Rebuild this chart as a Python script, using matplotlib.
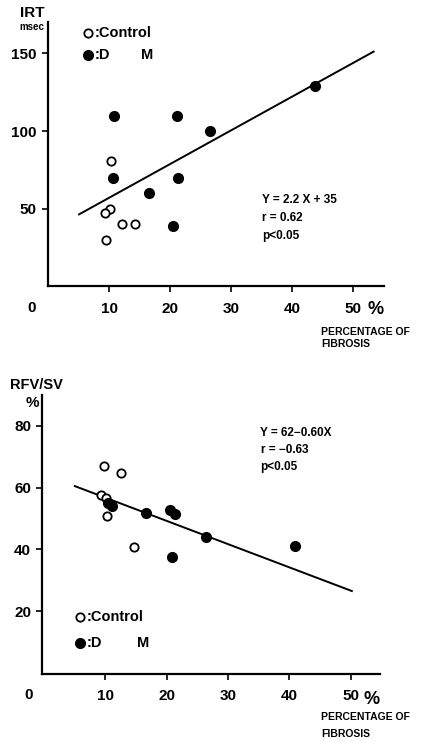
"""
Two scatter plots: IRT and RFV/SV against percentage of fibrosis
"""
import matplotlib
matplotlib.use('Agg')
import matplotlib.pyplot as plt

plt.rcParams['font.family'] = ['Liberation Sans Narrow', 'Liberation Sans', 'DejaVu Sans']
plt.rcParams['font.weight'] = 'bold'

# --- IRT panel ---
irt_ctrl_x = [10.3, 10.2, 9.4, 9.5, 12.2, 14.3]
irt_ctrl_y = [81, 50, 47, 30, 40, 40]
irt_dm_x = [10.8, 10.7, 16.5, 21.2, 21.3, 20.4, 26.5, 43.7]
irt_dm_y = [110, 70, 60, 110, 70, 39, 100, 129]
irt_fit_x = [5.1, 53.3]
irt_fit_y = [46.4, 151.2]
irt_yticks = [50, 100, 150]

# --- RFV/SV panel ---
rfv_ctrl_x = [9.7, 12.6, 9.35, 10.06, 10.3, 14.6]
rfv_ctrl_y = [67.0, 64.6, 57.5, 56.5, 50.9, 40.7]
rfv_dm_x = [10.4, 11.0, 16.6, 20.6, 21.3, 20.9, 26.4, 41.0]
rfv_dm_y = [55.0, 54.1, 51.7, 52.7, 51.3, 37.5, 43.9, 41.2]
rfv_fit_x = [5.0, 50.2]
rfv_fit_y = [60.5, 26.5]
rfv_yticks = [20, 40, 60, 80]

xticks = [10, 20, 30, 40, 50]

fig = plt.figure(figsize=(4.29, 7.42), dpi=100)
ax1 = fig.add_axes([0.1117, 0.614, 0.7834, 0.3558])
ax2 = fig.add_axes([0.0986, 0.0916, 0.7872, 0.376])


def style_axes(ax, yticks):
    for s in ['top', 'right']:
        ax.spines[s].set_visible(False)
    for s in ['left', 'bottom']:
        ax.spines[s].set_linewidth(1.6)
    ax.set_xticks(xticks)
    ax.set_yticks(yticks)
    ax.tick_params(axis='both', length=4, width=1.2, labelsize=11)
    ax.tick_params(axis='x', pad=7)
    ax.tick_params(axis='y', pad=4)


def draw_points(ax, cx, cy, dx, dy, fx, fy):
    ax.plot(fx, fy, color='black', lw=1.4, zorder=2)
    ax.plot(cx, cy, 'o', ms=6, mfc='white', mec='black', mew=1.3,
            ls='none', zorder=3, clip_on=False)
    ax.plot(dx, dy, 'o', ms=7, mfc='black', mec='black',
            ls='none', zorder=4, clip_on=False)


# 上のパネル
style_axes(ax1, irt_yticks)
ax1.set_xlim(0, 55)
ax1.set_ylim(0, 170)
draw_points(ax1, irt_ctrl_x, irt_ctrl_y, irt_dm_x, irt_dm_y, irt_fit_x, irt_fit_y)

ax1.text(-2.6, 176, 'IRT', fontsize=11, ha='center', va='center', clip_on=False)
ax1.text(-0.6, 166.8, 'msec', fontsize=7, ha='right', va='center', clip_on=False)
ax1.text(-2.6, -14.0, '0', fontsize=11, ha='center', va='center', clip_on=False)
ax1.text(53.6, -15.0, '%', fontsize=13, ha='center', va='center', clip_on=False)
ax1.text(44.7, -29.2, 'PERCENTAGE OF', fontsize=7.5, ha='left', va='center', clip_on=False)
ax1.text(44.7, -37.0, 'FIBROSIS', fontsize=7.5, ha='left', va='center', clip_on=False)

ax1.plot([6.5], [163], 'o', ms=6, mfc='white', mec='black', mew=1.3, clip_on=False)
ax1.plot([6.5], [149], 'o', ms=7, mfc='black', mec='black', clip_on=False)
ax1.text(7.6, 163, ':Control', fontsize=10.5, ha='left', va='center', clip_on=False)
ax1.text(7.6, 149, ':D', fontsize=10.5, ha='left', va='center', clip_on=False)
ax1.text(15.3, 149, 'M', fontsize=10.5, ha='left', va='center', clip_on=False)

ax1.text(35.0, 55.6, 'Y = 2.2 X + 35', fontsize=8.5, ha='left', va='center')
ax1.text(35.0, 43.8, 'r = 0.62', fontsize=8.5, ha='left', va='center')
ax1.text(35.0, 32.5, 'p<0.05', fontsize=8.5, ha='left', va='center')

# 下のパネル
style_axes(ax2, rfv_yticks)
ax2.set_xlim(-0.3, 54.8)
ax2.set_ylim(-0.4, 90)
draw_points(ax2, rfv_ctrl_x, rfv_ctrl_y, rfv_dm_x, rfv_dm_y, rfv_fit_x, rfv_fit_y)

ax2.text(-1.3, 93.3, 'RFV/SV', fontsize=10.5, ha='center', va='center', clip_on=False)
ax2.text(-2.0, 87.3, '%', fontsize=11, ha='center', va='center', clip_on=False)
ax2.text(-2.5, -7.2, '0', fontsize=11, ha='center', va='center', clip_on=False)
ax2.text(53.4, -8.7, '%', fontsize=13, ha='center', va='center', clip_on=False)
ax2.text(45.2, -14.3, 'PERCENTAGE OF', fontsize=7.5, ha='left', va='center', clip_on=False)
ax2.text(45.2, -19.7, 'FIBROSIS', fontsize=7.5, ha='left', va='center', clip_on=False)

ax2.plot([5.9], [18.2], 'o', ms=6, mfc='white', mec='black', mew=1.3, clip_on=False)
ax2.plot([5.9], [9.7], 'o', ms=7, mfc='black', mec='black', clip_on=False)
ax2.text(7.0, 18.2, ':Control', fontsize=10.5, ha='left', va='center', clip_on=False)
ax2.text(7.0, 9.7, ':D', fontsize=10.5, ha='left', va='center', clip_on=False)
ax2.text(15.1, 9.7, 'M', fontsize=10.5, ha='left', va='center', clip_on=False)

ax2.text(35.2, 77.8, 'Y = 62\u22120.60X', fontsize=8.5, ha='left', va='center')
ax2.text(35.4, 72.2, 'r = \u22120.63', fontsize=8.5, ha='left', va='center')
ax2.text(35.2, 66.8, 'p<0.05', fontsize=8.5, ha='left', va='center')

fig.savefig('out.png', dpi=100)
